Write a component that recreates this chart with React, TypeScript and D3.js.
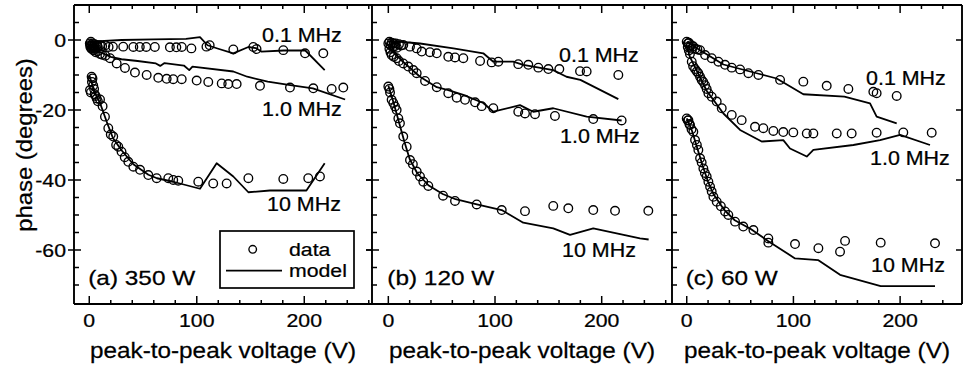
import React from "react";
import * as d3 from "d3";

type P = [number, number];

// Tick values / labels
const xTickLabels = [0, 100, 200];
const yTickLabels = [0, -20, -40, -60];
const freqLabels = ["0.1 MHz", "1.0 MHz", "10 MHz"];
const panelTitles = ["(a) 350 W", "(b) 120 W", "(c) 60 W"];

// (a) 350 W
const a01Data: P[] = [[0.5,-1],[1,-2],[1.5,-0.5],[2,-1.5],[2.5,-2.5],[3,-1],[4,-2],[5,-1.2],[6,-2.2],[7,-1.5],[8,-2],[10,-1.5],[12,-1.8],[15,-1.5],[18,-2],[22,-1.9],[31.6,-1.9],[41,-2],[47,-2],[53,-2],[61,-2],[75,-2.1],[81,-2.1],[86,-2],[95,-2.4],[109,-1.9],[112,-1.5],[134,-2.7],[152.6,-2],[155.6,-2.6],[180.5,-2.9],[200.7,-3.8],[217.7,-3.8]];
const a01Model: P[] = [[0,-0.5],[10,-0.3],[30,0],[60,0.2],[90,0.3],[103,0.8],[110,-1.5],[120,-2.5],[134,-3.8],[148,-2],[155,-2.3],[160,-3.3],[181,-3],[201,-3],[219,-8.6]];
const a10Data: P[] = [[1,-1.5],[2,-2.5],[3,-2],[4,-3],[5,-2.5],[6,-3.5],[8,-3.2],[10,-4],[12,-4.2],[15,-4.5],[19.3,-5.2],[25.5,-6.7],[33.2,-8],[42.5,-9.3],[53.4,-10],[64.2,-10.8],[72,-11.1],[78.1,-11.2],[86,-11.2],[99.9,-11.6],[110.7,-12],[123.2,-12.4],[129.3,-12.6],[137.1,-12.6],[158.8,-13.1],[186.7,-13.6],[208.4,-13.8],[225.5,-14],[236.3,-13.6]];
const a10Model: P[] = [[0,-2.5],[10,-3.5],[20,-4.8],[30,-5.5],[45,-6],[62,-6.7],[66,-7.4],[70,-6.6],[88,-7.3],[93,-8.6],[96,-7.6],[134,-9],[147,-10.5],[166,-11.9],[187,-12.9],[208,-13.8],[238,-17]];
const a1Data: P[] = [[0.7,-14.3],[1.5,-15],[2.2,-10.5],[2.5,-12],[3,-11],[3.7,-13],[4.5,-14],[5,-15.5],[6,-16],[6.9,-16.7],[8,-17.5],[10,-17],[12.4,-18.9],[14.6,-21.9],[17.7,-25.2],[20,-27],[22.3,-27.6],[25,-30],[27,-30.5],[30,-31.9],[33,-33.5],[36.3,-34.8],[41,-36.2],[47.2,-37.1],[54.9,-38.6],[62.7,-39.5],[73.5,-39.5],[78.1,-40],[82.8,-40.2],[101.4,-40.5],[115.3,-41],[127.8,-41],[148,-39.5],[180.5,-39.7],[203.7,-39.5],[214.6,-39]];
const a1Model: P[] = [[0,-10],[5,-15],[10,-18],[17,-24],[22,-28],[30,-31.5],[41,-35.5],[55,-38.5],[63,-39.5],[78,-40.5],[103,-42.5],[118.5,-35.2],[134,-39],[148,-43.5],[168,-43],[202,-43],[219,-35.2]];

// (b) 120 W
const b01Data: P[] = [[0,-1],[1,-0.5],[2,-1.5],[3,-0.8],[4,-2],[5,-1],[6,-1.8],[7,-1],[8,-2.2],[10,-1.2],[12,-1.6],[14,-1.4],[20.3,-1.9],[26.6,-2.4],[31.3,-3.3],[39,-3.5],[45.4,-3.8],[56.2,-4.8],[62.5,-5],[70.3,-5.2],[86,-6],[96.9,-6.4],[103.1,-6.2],[121.8,-6.9],[131.2,-7.1],[140.6,-7.9],[150,-8.3],[160.3,-8.3],[179.7,-8.9],[185.9,-9],[215.6,-10]];
const b01Model: P[] = [[0,-0.5],[11,-0.5],[29.7,-1],[61,-2.4],[89,-3.8],[98.4,-6.2],[117,-6.2],[126.5,-7.1],[154.6,-8.6],[167,-10.5],[180,-11.4],[215.6,-16.9]];
const b10Data: P[] = [[1,-2.5],[2,-3.5],[3.1,-4.3],[5,-4.8],[7.8,-5.2],[10,-6],[14,-6.7],[18.7,-7.6],[23.4,-8.6],[26.6,-9.5],[34.4,-11.7],[45.4,-13.5],[56.2,-15.2],[64.1,-16.5],[71.9,-17.1],[81.3,-17.8],[87.5,-18.9],[98.4,-19.5],[121.8,-20.5],[128.1,-21],[137.5,-21.2],[156.2,-21.7],[192.1,-22.6],[218.7,-23]];
const b10Model: P[] = [[0,-2],[14,-6.3],[29.7,-10.5],[45.4,-13.5],[56.2,-14.3],[70.3,-15.7],[89,-18],[98.4,-20.5],[123.4,-18.6],[135.9,-20.5],[154.6,-19.5],[185.9,-21.9],[218.7,-23]];
const b1Data: P[] = [[0,-13.3],[1,-14],[1.6,-15],[3.1,-17.1],[4.7,-18],[6.3,-19],[7.8,-20],[9.4,-22.4],[10.9,-23.8],[14,-27.6],[17.2,-30.5],[20.3,-34.3],[23,-35.5],[26.6,-37.6],[29.7,-39],[32.8,-40.5],[37.5,-41.7],[51.3,-44.5],[62.5,-46],[82.8,-47],[106.3,-48.6],[128.1,-48.9],[154.6,-47.4],[168.7,-48.1],[192.1,-48.6],[212.5,-48.8],[243.7,-48.8]];
const b1Model: P[] = [[0,-13],[5,-18],[10,-23.5],[15,-29],[20,-34],[27,-38],[37.5,-41.5],[51,-44],[63,-45.5],[83,-47],[106.3,-48.6],[126.5,-52.2],[154.6,-53.8],[170.3,-55.7],[192.1,-53.8],[235.9,-56.7],[244,-57]];

// (c) 60 W
const c01Data: P[] = [[0,-0.5],[1,-1],[2,-0.8],[3,-2],[4,-1.5],[5,-2.5],[6,-1.8],[8,-2.5],[10,-2.7],[12.5,-2.9],[17.2,-4.3],[23.4,-5.2],[29.7,-6.2],[35.9,-7.1],[42.2,-7.9],[50,-8.4],[57.8,-9.5],[67.2,-10],[87.5,-11.4],[109.3,-11.9],[131.2,-13.1],[151.5,-14],[174.9,-14.8],[178,-15.2],[196.8,-16]];
const c01Model: P[] = [[0,-0.5],[12.5,-2.9],[34.4,-7],[65.6,-9.5],[84.3,-11],[109.3,-15.5],[147.8,-16.2],[171.8,-18.1],[178,-21.9],[196.8,-23.8]];
const c10Data: P[] = [[1,-2],[2,-3],[3,-4],[4.7,-6.2],[6,-7.5],[7.8,-8.3],[9.5,-9],[10.9,-9.5],[12.5,-10.5],[14,-11.4],[15.5,-12],[17.2,-12.9],[18.7,-14],[20.3,-15.2],[23.4,-16.2],[28.1,-17.6],[32.8,-19.5],[42.2,-21.4],[51.5,-22.9],[64,-24.8],[71.8,-25.2],[81.2,-26],[90.5,-26.3],[99.9,-26.4],[112.5,-26.7],[118.7,-26.7],[140.6,-26.7],[154.6,-26.7],[178,-26.5],[203,-26.4],[229.6,-26.5]];
const c10Model: P[] = [[0,-2],[3.1,-4.9],[18.7,-14.5],[34.4,-21],[50,-25.7],[70.3,-29],[90.5,-28.6],[96.8,-31],[112.5,-33.3],[118.7,-31.4],[156.2,-30],[181.2,-28.6],[200,-27.1],[228,-30]];
const c1Data: P[] = [[0,-22.4],[1,-23],[1.6,-22.9],[2.5,-24],[3.1,-24.3],[4.5,-25.5],[6.2,-26.2],[7.8,-28.6],[9.5,-30],[10.9,-31.4],[12.5,-33.8],[14,-35],[15.6,-36.7],[17,-38],[18.7,-39],[20.3,-40.5],[21.9,-41.9],[23.4,-43.3],[25,-44.8],[28.1,-46.2],[32,-47.5],[35.9,-49],[39,-50],[45.3,-51.9],[53,-53.3],[62.5,-54.3],[76.5,-56.7],[76.5,-57.9],[101.5,-58.3],[123.4,-59.5],[143.7,-60.5],[148.4,-57.4],[181.8,-57.9],[232.7,-58.1]];
const c1Model: P[] = [[0,-22.4],[5,-26],[10,-31],[15,-36],[20,-40.5],[25,-44],[35,-48.5],[45,-51.5],[60,-54],[76.5,-57.5],[101.5,-62.4],[123.4,-62.9],[143.7,-67.1],[181.8,-70.3],[232.7,-70.3]];

const FONT = "'Liberation Sans', Arial, Helvetica, sans-serif";

const T = ({ x, y, size, sx = 1.1, anchor = "start", rotate = 0, children }: any) => (
  <text
    transform={`translate(${x},${y})${rotate ? ` rotate(${rotate})` : ""} scale(${sx},1)`}
    fontSize={size}
    textAnchor={anchor}
    fontFamily={FONT}
    fill="#000"
    stroke="#000"
    strokeWidth={0.25}
  >
    {children}
  </text>
);

const TOP = 5;
const BOT = 304;

const panels = [
  { x0: 74, x1: 372, dom: [-14.2, 263], series: [[a01Data, a01Model], [a10Data, a10Model], [a1Data, a1Model]],
    labels: [[262, 42], [262, 116], [267, 211]] },
  { x0: 372, x1: 672, dom: [-15.3, 265.9], series: [[b01Data, b01Model], [b10Data, b10Model], [b1Data, b1Model]],
    labels: [[559, 61.5], [560, 143], [562, 256.5]] },
  { x0: 672, x1: 962, dom: [-13.8, 258], series: [[c01Data, c01Model], [c10Data, c10Model], [c1Data, c1Model]],
    labels: [[866, 85], [870, 165], [871, 271.5]] },
];

export default function App() {
  const y = d3.scaleLinear().domain([-75.43, 10]).range([BOT, TOP]);
  const yTicks = d3.range(-70, 6, 5);
  const stroke = "#000";

  return (
    <svg width={964} height={375} style={{ position: "absolute", left: 0, top: 0, background: "#fff" }}>
      <rect width={964} height={375} fill="#fff" />
      {panels.map((p, pi) => {
        const x = d3.scaleLinear().domain(p.dom).range([p.x0, p.x1]);
        const xTicks = d3.range(0, p.dom[1], 20);
        const line = d3.line<P>().x((d) => x(d[0])).y((d) => y(d[1]));
        return (
          <g key={pi}>
            <line x1={p.x0} x2={p.x1} y1={TOP} y2={TOP} stroke={stroke} strokeWidth={1.9} />
            <line x1={p.x0} x2={p.x1} y1={BOT} y2={BOT} stroke={stroke} strokeWidth={1.9} />
            <line x1={p.x0} x2={p.x0} y1={TOP} y2={BOT} stroke={stroke} strokeWidth={1.9} />
            {pi === panels.length - 1 && (
              <line x1={p.x1} x2={p.x1} y1={TOP} y2={BOT} stroke={stroke} strokeWidth={1.9} />
            )}
            {xTicks.map((v) => {
              const len = v % 100 === 0 ? 8 : 4;
              return (
                <g key={v}>
                  <line x1={x(v)} x2={x(v)} y1={BOT} y2={BOT - len} stroke={stroke} strokeWidth={1.5} />
                  <line x1={x(v)} x2={x(v)} y1={TOP} y2={TOP + len} stroke={stroke} strokeWidth={1.5} />
                </g>
              );
            })}
            {yTicks.map((v) => {
              const major = v % 20 === 0;
              return (
                <g key={v}>
                  <line x1={major ? p.x0 - 6 : p.x0 - 1} x2={p.x0 + (major ? 7 : 5)} y1={y(v)} y2={y(v)} stroke={stroke} strokeWidth={1.5} />
                  {major && <line x1={p.x1} x2={p.x1 - 6} y1={y(v)} y2={y(v)} stroke={stroke} strokeWidth={1.5} />}
                </g>
              );
            })}
            {xTickLabels.map((v) => (
              <T key={v} x={x(v)} y={327} size={19} sx={1.12} anchor="middle">{v}</T>
            ))}
            <T x={(p.x0 + p.x1) / 2} y={358} size={22.5} sx={1.08} anchor="middle">peak-to-peak voltage (V)</T>
            {p.series.map(([data, model], si) => (
              <g key={si}>
                <path d={line(model as P[]) || ""} fill="none" stroke={stroke} strokeWidth={1.8} strokeLinejoin="round" />
                {(data as P[]).map((d, di) => (
                  <circle key={di} cx={x(d[0])} cy={y(d[1])} r={4.3} fill="none" stroke={stroke} strokeWidth={1.35} />
                ))}
              </g>
            ))}
            {freqLabels.map((t, i) => (
              <T key={t} x={p.labels[i][0]} y={p.labels[i][1]} size={19.5} sx={1.1}>{t}</T>
            ))}
            <T x={x(0) - 1} y={285} size={21} sx={1.16}>{panelTitles[pi]}</T>
          </g>
        );
      })}
      {yTickLabels.map((v) => (
        <T key={v} x={66} y={y(v) + 7} size={19} sx={1.12} anchor="end">{v}</T>
      ))}
      <T x={32} y={145} size={22.5} sx={1.06} anchor="middle" rotate={-90}>phase (degrees)</T>
      <g>
        <rect x={220} y={231} width={134} height={57} fill="#fff" stroke={stroke} strokeWidth={1.7} />
        <circle cx={252.7} cy={249.3} r={3.8} fill="none" stroke={stroke} strokeWidth={1.35} />
        <T x={289} y={255.5} size={19} sx={1.12}>data</T>
        <line x1={226} x2={282} y1={270.7} y2={270.7} stroke={stroke} strokeWidth={1.8} />
        <T x={289} y={276.5} size={19} sx={1.12}>model</T>
      </g>
    </svg>
  );
}
